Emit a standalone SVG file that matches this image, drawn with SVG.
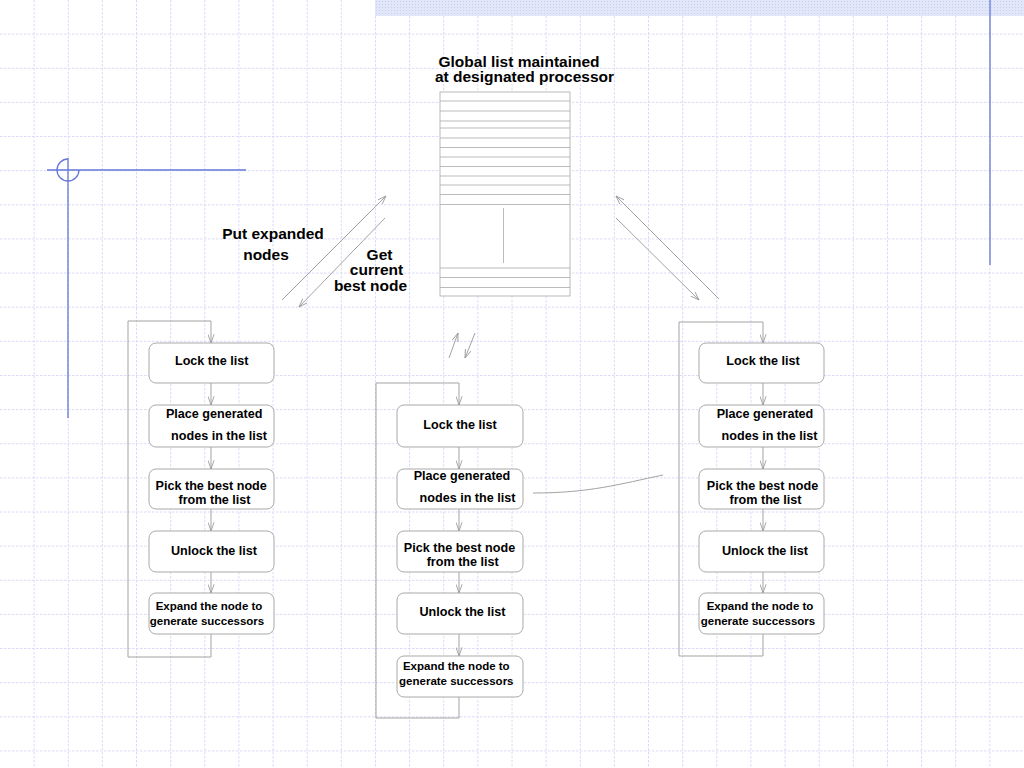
<svg xmlns="http://www.w3.org/2000/svg" width="1024" height="768" viewBox="0 0 1024 768">
<defs>
<style>
.grid{stroke:#dadbf6;stroke-width:1;stroke-dasharray:2.5,1.5;fill:none}
.deco{stroke:#6678d8;stroke-width:1.3;fill:none}
.box{fill:#ffffff;stroke:#a9a9a9;stroke-width:1}
.lst{fill:#ffffff;stroke:#a9a9a9;stroke-width:0.8}
.ln{stroke:#a9a9a9;stroke-width:0.8;fill:none}
.con{stroke:#a3a3a3;stroke-width:1;fill:none}
.arr{marker-end:url(#ah)}
.t{font-family:"Liberation Sans",Arial,sans-serif;font-weight:bold;fill:#000;text-anchor:middle}
.big{font-size:15.5px}
.bt{font-size:12.6px}
.st{font-size:11.5px}
</style>
<marker id="ah" viewBox="0 0 10 8" refX="10" refY="4" markerWidth="9" markerHeight="7" markerUnits="userSpaceOnUse" orient="auto">
<path d="M0,0.5 L10,4 L0,7.5" fill="none" stroke="#9a9a9a" stroke-width="1"/>
</marker>
<pattern id="dots" width="3" height="3" patternUnits="userSpaceOnUse">
<rect width="3" height="3" fill="#e1e7f9"/>
<rect x="1" y="1" width="1" height="1" fill="#c6d0f1"/>
</pattern>
</defs>
<rect width="1024" height="768" fill="#ffffff"/>
<g id="grid">
<path class="grid" d="M34.13,0V768M68.27,0V768M102.4,0V768M136.53,0V768M170.67,0V768M204.8,0V768M238.93,0V768M273.07,0V768M307.2,0V768M341.33,0V768M375.47,0V768M409.6,0V768M443.73,0V768M477.87,0V768M512,0V768M546.13,0V768M580.27,0V768M614.4,0V768M648.53,0V768M682.67,0V768M716.8,0V768M750.93,0V768M785.07,0V768M819.2,0V768M853.33,0V768M887.47,0V768M921.6,0V768M955.73,0V768M989.87,0V768"/>
<path class="grid" d="M0,34.13H1024M0,68.27H1024M0,102.4H1024M0,136.53H1024M0,170.67H1024M0,204.8H1024M0,238.93H1024M0,273.07H1024M0,307.2H1024M0,341.33H1024M0,375.47H1024M0,409.6H1024M0,443.73H1024M0,477.87H1024M0,512H1024M0,546.13H1024M0,580.27H1024M0,614.4H1024M0,648.53H1024M0,682.67H1024M0,716.8H1024M0,750.93H1024"/>
</g>
<g id="decoration">
<rect x="375" y="0" width="649" height="16" fill="url(#dots)"/>
<path class="deco" d="M990,0V265"/>
<path class="deco" d="M47,170H246M68,158V418"/>
<path class="deco" d="M68,159A11,11 0 1,0 79,170"/>
</g>
<g id="global-list">
<rect class="lst" x="440" y="92" width="130" height="204"/>
<path class="ln" d="M440,101H570M440,111H570M440,121H570M440,128H570M440,138H570M440,147.5H570M440,157H570M440,166.5H570M440,176H570M440,185H570M440,194.5H570M440,204.5H570M440,268H570M440,277.5H570M440,287.5H570M503.5,208V263"/>
<text class="t big" x="519" y="67">Global list maintained</text>
<text class="t big" x="524.5" y="82">at designated processor</text>
</g>
<g id="labels">
<text class="t big" x="273" y="238.5">Put expanded</text>
<text class="t big" x="266" y="260">nodes</text>
<text class="t big" x="379.5" y="259.5">Get</text>
<text class="t big" x="376.5" y="275">current</text>
<text class="t big" x="370.5" y="291">best node</text>
</g>
<g id="connectors">
<path class="con arr" d="M282,300L386,196"/>
<path class="con arr" d="M385,218L299,307"/>
<path class="con arr" d="M719,299L616,196"/>
<path class="con arr" d="M616,218L699,300"/>
<path class="con arr" d="M449,358L458,333"/>
<path class="con arr" d="M475,333L465,358"/>
<path class="con" d="M533,493C590,493 620,484 663,475"/>
<path class="con arr" d="M211,634V657H128V321H211V343"/>
<path class="con arr" d="M211,383V405"/>
<path class="con arr" d="M211,447V469"/>
<path class="con arr" d="M211,509V531"/>
<path class="con arr" d="M211,572V593"/>
<path class="con arr" d="M459,697V718H376V383H459V405"/>
<path class="con arr" d="M459,447V469"/>
<path class="con arr" d="M459,509V531"/>
<path class="con arr" d="M459,572V593"/>
<path class="con arr" d="M459,634V656"/>
<path class="con arr" d="M763,634V656H679V322H763V343"/>
<path class="con arr" d="M763,383V405"/>
<path class="con arr" d="M763,447V469"/>
<path class="con arr" d="M763,509V531"/>
<path class="con arr" d="M763,572V593"/>
</g>
<g id="left-lock"><rect class="box" x="149" y="343" width="125" height="40" rx="7"/><text class="t bt" x="211.7" y="365">Lock the list</text></g>
<g id="left-place"><rect class="box" x="149" y="405" width="125" height="42" rx="7"/><text class="t bt" x="214.2" y="417.5">Place generated</text><text class="t bt" x="219" y="440">nodes in the list</text></g>
<g id="left-pick"><rect class="box" x="149" y="469" width="125" height="40" rx="7"/><text class="t bt" x="211.2" y="489.5">Pick the best node</text><text class="t bt" x="214.5" y="503.5">from the list</text></g>
<g id="left-unlock"><rect class="box" x="149" y="531" width="125" height="41" rx="7"/><text class="t bt" x="214" y="554.5">Unlock the list</text></g>
<g id="left-expand"><rect class="box" x="149" y="593" width="125" height="41" rx="7"/><text class="t st" x="209" y="609.5">Expand the node to</text><text class="t st" x="207" y="624.5">generate successors</text></g>
<g id="mid-lock"><rect class="box" x="397" y="405" width="126" height="42" rx="7"/><text class="t bt" x="460" y="429">Lock the list</text></g>
<g id="mid-place"><rect class="box" x="397" y="469" width="126" height="40" rx="7"/><text class="t bt" x="462" y="479.5">Place generated</text><text class="t bt" x="467.5" y="501.5">nodes in the list</text></g>
<g id="mid-pick"><rect class="box" x="397" y="531" width="126" height="41" rx="7"/><text class="t bt" x="459.5" y="551.5">Pick the best node</text><text class="t bt" x="462.7" y="565.5">from the list</text></g>
<g id="mid-unlock"><rect class="box" x="397" y="593" width="126" height="41" rx="7"/><text class="t bt" x="462.5" y="616">Unlock the list</text></g>
<g id="mid-expand"><rect class="box" x="397" y="656" width="126" height="41" rx="7"/><text class="t st" x="456.3" y="669.5">Expand the node to</text><text class="t st" x="456.3" y="684.5">generate successors</text></g>
<g id="right-lock"><rect class="box" x="699" y="343" width="125" height="40" rx="7"/><text class="t bt" x="763" y="365">Lock the list</text></g>
<g id="right-place"><rect class="box" x="699" y="405" width="125" height="42" rx="7"/><text class="t bt" x="765" y="417.5">Place generated</text><text class="t bt" x="769.5" y="440">nodes in the list</text></g>
<g id="right-pick"><rect class="box" x="699" y="469" width="125" height="40" rx="7"/><text class="t bt" x="762.5" y="489.5">Pick the best node</text><text class="t bt" x="765.5" y="503.5">from the list</text></g>
<g id="right-unlock"><rect class="box" x="699" y="531" width="125" height="41" rx="7"/><text class="t bt" x="765" y="554.5">Unlock the list</text></g>
<g id="right-expand"><rect class="box" x="699" y="593" width="125" height="41" rx="7"/><text class="t st" x="760" y="609.5">Expand the node to</text><text class="t st" x="758" y="624.5">generate successors</text></g>
</svg>
